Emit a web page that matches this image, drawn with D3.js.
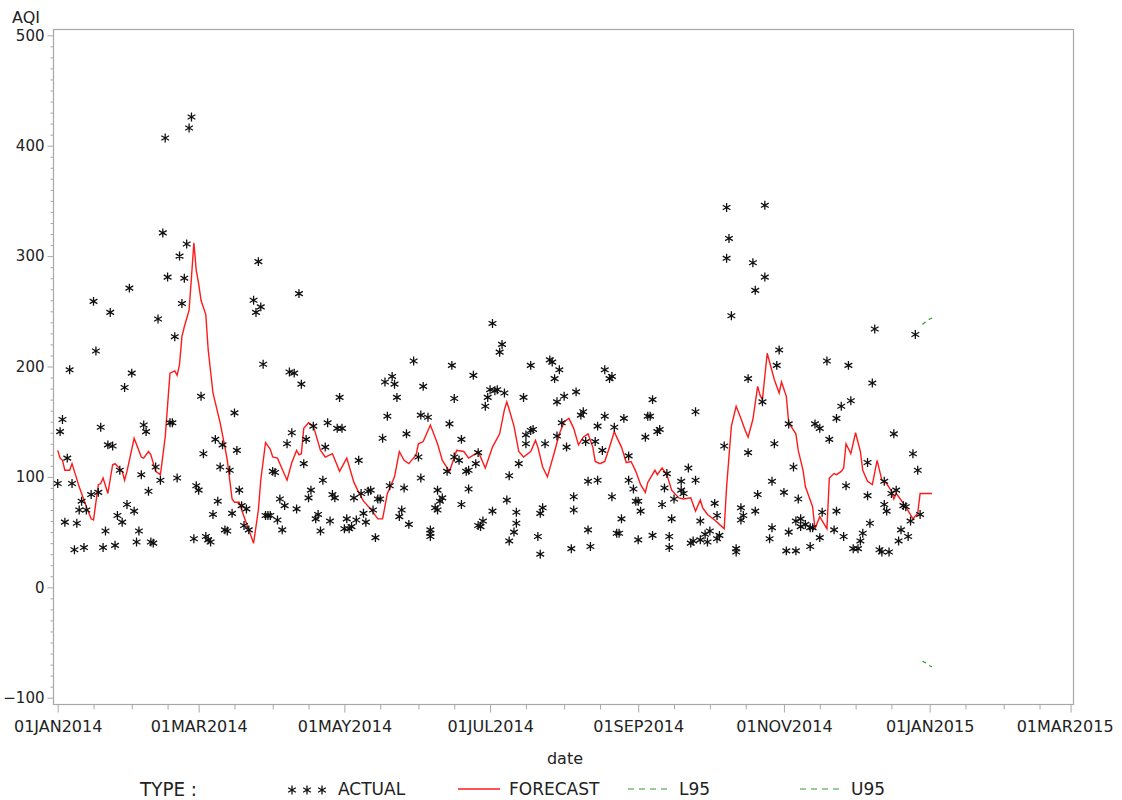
<!DOCTYPE html>
<html><head><meta charset="utf-8">
<script src="https://cdn.jsdelivr.net/npm/d3@7"></script>
<style>
body{margin:0;background:#fff}
svg{display:block}
text{font-family:"DejaVu Sans",sans-serif;fill:#222}
</style>
</head><body>
<svg id="c" width="1122" height="800"></svg>
<script>
// ---- data (day offset from 01JAN2014, AQI) ----
const actualDay = [0,1,2,3,4,5,6,7,8,9,10,11,12,14,15,16,17,18,19,20,21,22,23,24,25,26,27,28,29,30,31,32,33,34,35,36,37,38,39,40,41,42,43,44,45,46,47,48,49,50,51,52,53,54,55,56,57,58,59,60,61,62,63,64,65,66,67,68,69,70,71,72,73,74,75,76,77,78,79,80,82,83,84,85,86,87,88,89,90,91,92,93,94,95,96,97,98,99,100,101,102,103,104,105,106,107,108,109,110,111,112,113,114,115,116,117,118,119,120,121,122,123,124,125,126,127,128,129,130,131,132,133,134,135,136,137,138,139,140,141,142,143,144,145,146,147,
149,151,152,152,153,155,156,156,156,158,159,159,160,161,163,164,165,166,166,168,169,169,171,172,172,174,175,176,176,177,178,179,180,181,182,182,183,184,185,186,187,188,189,189,191,192,192,193,195,196,196,198,198,199,201,202,202,203,204,206,207,208,209,209,210,211,212,213,215,216,216,217,219,220,
221,222,222,223,225,226,226,228,229,229,231,232,232,233,234,235,236,237,239,239,241,242,243,243,244,246,247,248,249,249,251,252,253,254,255,256,256,257,258,261,261,262,264,265,266,267,267,269,269,271,272,273,275,276,276,277,279,280,280,281,282,284,284,286,286,287,289,289,291,292,296,296,
292,293,295,298,299,299,300,301,302,304,305,306,306,308,309,309,310,311,311,313,315,315,316,317,319,319,320,322,323,325,326,326,328,329,330,331,332,333,335,336,337,339,339,340,341,342,344,345,346,346,347,348,349,350,351,352,353,354,355,356,357,358,359,360,361];
const actualAQI = [94,141,152,59,117,197,94,34,58,70,78,36,70,84,259,214,86,145,36,51,129,249,128,38,65,106,59,181,75,271,194,69,41,51,102,147,141,87,41,40,109,243,97,321,407,281,149,149,227,99,300,257,280,311,416,426,44,92,88,173,121,46,43,41,66,134,78,109,129,52,51,106,67,158,124,88,74,56,71,52,260,249,295,254,202,65,65,65,105,104,61,80,52,74,130,195,140,194,71,266,184,112,134,81,88,146,62,66,51,97,127,149,60,84,81,144,172,144,53,62,53,55,81,61,115,85,67,59,87,88,70,45,80,80,135,186,155,92,191,184,172,64,70,90,139,57,
205,118,99,156,182,154,46,52,49,72,88,70,78,81,105,148,201,171,118,115,134,75,105,89,106,192,112,122,56,55,60,164,172,179,69,239,178,179,213,220,176,79,42,101,50,68,58,112,172,130,138,201,142,143,46,67,30,72,130,206,204,189,168,137,197,149,173,127,35,82,70,177,156,159,
132,96,52,37,132,97,146,124,155,197,189,191,82,145,49,49,62,153,119,97,89,78,78,43,69,136,155,155,170,47,141,143,75,90,103,36,46,62,80,88,96,85,108,40,42,97,159,60,43,48,41,51,76,65,44,47,128,344,298,316,246,32,35,72,61,65,122,189,294,269,281,346,
69,84,168,44,54,96,130,201,215,86,33,50,148,109,33,60,80,62,55,57,37,54,54,148,144,45,68,205,134,52,153,69,164,46,92,201,169,35,35,42,49,83,113,58,185,234,34,32,75,96,69,32,85,139,88,42,52,74,73,46,60,121,229,106,66];

const forecastDay = [0,1,2,3,5,6,7,9,12,14,15,17,18,19,21,23,24,27,28,29,32,35,36,38,39,41,43,45,47,49,50,51,52,53,55,56,57,58,59,60,62,63,65,68,70,71,73,74,76,77,79,81,82,84,85,87,89,90,92,94,96,98,100,101,102,103,105,107,108,110,112,115,118,121,124,126,128,131,134,136,138,141,143,145,147,150,151,153,156,159,161,164,167,170,172,175,176,179,182,185,187,188,189,191,193,195,198,200,201,203,205,208,210,212,214,216,218,220,222,224,225,227,229,231,233,234,236,238,240,242,244,246,247,250,251,253,255,257,260,262,265,267,269,270,272,275,277,279,280,282,284,286,288,289,291,293,294,295,297,300,302,303,305,306,309,310,312,313,316,317,319,322,323,325,326,328,329,330,332,334,336,337,339,341,343,345,347,349,350,351,352,355,358,360,361,366];
const forecastAQI = [124,117,115,106,106,112,105,91,73,62,61,93,94,99,85,111,112,105,97,105,135,118,117,123,120,105,102,136,194,196,192,202,227,236,251,281,312,287,275,260,247,215,176,149,127,115,80,77,77,70,58,46,40,70,97,131,125,118,117,107,97,113,124,120,121,144,149,146,139,124,118,121,105,117,95,86,78,71,62,62,85,100,123,115,112,120,130,132,147,130,115,105,124,123,117,121,123,108,127,139,161,168,161,146,123,118,123,133,127,109,100,123,139,150,153,144,129,136,139,127,114,112,114,127,141,136,127,113,114,105,93,86,95,106,102,108,102,88,81,80,81,69,79,72,66,61,57,53,91,146,164,153,141,136,152,182,174,170,212,188,176,186,173,149,139,124,106,91,73,53,64,53,99,103,102,105,108,130,121,140,123,106,96,93,115,97,94,87,80,85,82,73,62,67,85,85];

const boundDay = [362,363,364,365,366];
const l95AQI = [-67,-68,-69,-71,-72];
const u95AQI = [238,240,241,243,244];

const yMajor = [-100,0,100,200,300,400,500];
const xMajorLabels = ["01JAN2014","01MAR2014","01MAY2014","01JUL2014","01SEP2014","01NOV2014","01JAN2015","01MAR2015"];

// ---- drawing ----
const svg = d3.select("#c");
const t0 = new Date(2014,0,1);
const toDate = d => d3.timeDay.offset(t0, d);
const parseLbl = d3.timeParse("%d%b%Y");
const xMajor = xMajorLabels.map(s => parseLbl(s.slice(0,2)+s.charAt(2)+s.slice(3,5).toLowerCase()+s.slice(5)));

const x = d3.scaleTime().domain([t0, new Date(2015,2,1)]).range([57.7, 1070.6]);
const y = d3.scaleLinear().domain([-100,500]).range([697.7, 35.3]);

const frameL = 53.5, frameR = 1073.5, frameT = 29.5, frameB = 704.5;
const axisCol = "#a8a8a8";

// y axis
const yMinor = d3.range(-100, 501, 10).filter(v => !yMajor.includes(v));
const gyMin = svg.append("g").attr("transform", `translate(${frameL},0)`)
  .call(d3.axisLeft(y).tickValues(yMinor).tickSize(3).tickFormat(""));
const gy = svg.append("g").attr("transform", `translate(${frameL},0)`)
  .call(d3.axisLeft(y).tickValues(yMajor).tickSize(6).tickPadding(3).tickFormat(d3.format("d")));
[gyMin, gy].forEach(g => { g.select(".domain").remove(); g.selectAll("line").attr("stroke", axisCol); });
gy.selectAll("text").attr("font-size", 15).attr("fill","#222").style("font-family","DejaVu Sans");

// x axis
const xMinor = [];
d3.timeMonth.range(new Date(2014,0,1), new Date(2015,2,2)).forEach(m => {
  const mid = new Date(m.getFullYear(), m.getMonth(), 16);
  xMinor.push(mid);
  if (!xMajor.some(t => +t === +m)) xMinor.push(m);
});
const gxMin = svg.append("g").attr("transform", `translate(0,${frameB})`)
  .call(d3.axisBottom(x).tickValues(xMinor.filter(d => d <= new Date(2015,2,1))).tickSize(5).tickFormat(""));
const gx = svg.append("g").attr("transform", `translate(0,${frameB})`)
  .call(d3.axisBottom(x).tickValues(xMajor).tickSize(8).tickPadding(8).tickFormat((d,i) => xMajorLabels[i]));
[gxMin, gx].forEach(g => { g.select(".domain").remove(); g.selectAll("line").attr("stroke", axisCol); });
gx.selectAll("text").attr("font-size", 16).attr("fill","#222").style("font-family","DejaVu Sans")
  .attr("dx", (d,i) => i === xMajor.length-1 ? -6 : 0);

// frame
svg.append("rect").attr("x", frameL).attr("y", frameT)
  .attr("width", frameR-frameL).attr("height", frameB-frameT)
  .attr("fill","none").attr("stroke", axisCol).attr("stroke-width",1.2);

// axis titles
svg.append("text").attr("x", 12).attr("y", 23).attr("font-size", 16).text("AQI");
svg.append("text").attr("x", 565).attr("y", 764).attr("font-size", 16).attr("text-anchor","middle").text("date");

// series
const plot = svg.append("g");
const line = d3.line().x(d => x(toDate(d[0]))).y(d => y(d[1]));

plot.append("path")
  .datum(forecastDay.map((d,i) => [d, forecastAQI[i]]))
  .attr("d", line).attr("fill","none").attr("stroke","#ff1a1a").attr("stroke-width",1.4);

plot.append("path")
  .datum(boundDay.map((d,i) => [d, l95AQI[i]]))
  .attr("d", line).attr("fill","none").attr("stroke","#2e9e2e").attr("stroke-width",1.2).attr("stroke-dasharray","4,4");
plot.append("path")
  .datum(boundDay.map((d,i) => [d, u95AQI[i]]))
  .attr("d", line).attr("fill","none").attr("stroke","#2e9e2e").attr("stroke-width",1.2).attr("stroke-dasharray","4,4");

const star = d3.symbol().type(d3.symbolAsterisk).size(56);
plot.selectAll("path.pt")
  .data(actualDay.map((d,i) => [d, actualAQI[i]]))
  .join("path").attr("class","pt")
  .attr("transform", d => `translate(${x(toDate(d[0]))},${y(d[1])})`)
  .attr("d", star).attr("fill","none").attr("stroke","#111").attr("stroke-width",1.3);

// legend
const lg = svg.append("g");
lg.append("text").attr("x",140).attr("y",796).attr("font-size",20).attr("textLength",57)
  .attr("lengthAdjust","spacingAndGlyphs").text("TYPE :");
[292,307,322].forEach(cx => lg.append("path").attr("transform",`translate(${cx},790)`)
  .attr("d", star).attr("fill","none").attr("stroke","#111").attr("stroke-width",1.3));
lg.append("text").attr("x",338).attr("y",795).attr("font-size",17).text("ACTUAL");
lg.append("line").attr("x1",458).attr("x2",500).attr("y1",789).attr("y2",789).attr("stroke","#ff1a1a").attr("stroke-width",1.4);
lg.append("text").attr("x",509).attr("y",795).attr("font-size",17).text("FORECAST");
lg.append("line").attr("x1",628).attr("x2",670).attr("y1",789).attr("y2",789).attr("stroke","#2e9e2e").attr("stroke-width",1.2).attr("stroke-dasharray","6,5");
lg.append("text").attr("x",679).attr("y",795).attr("font-size",17).text("L95");
lg.append("line").attr("x1",800).attr("x2",843).attr("y1",789).attr("y2",789).attr("stroke","#2e9e2e").attr("stroke-width",1.2).attr("stroke-dasharray","6,5");
lg.append("text").attr("x",851).attr("y",795).attr("font-size",17).text("U95");
</script>
</body></html>
